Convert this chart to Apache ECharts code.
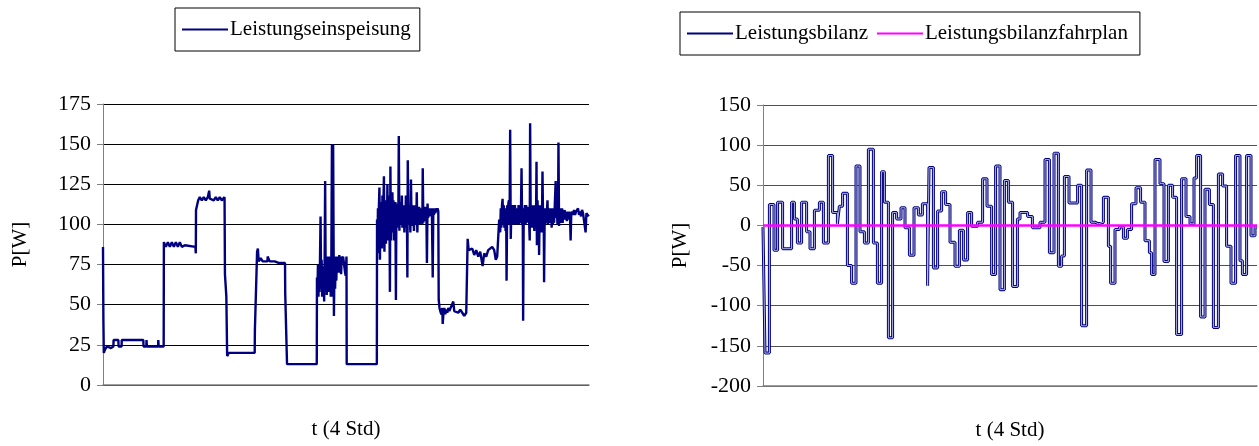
<!DOCTYPE html>
<html>
<head>
<meta charset="utf-8">
<script src="https://cdn.jsdelivr.net/npm/echarts@6/dist/echarts.min.js"></script>
<style>
  html, body { margin: 0; padding: 0; background: #ffffff; }
  #chart { width: 1259px; height: 446px; }
</style>
</head>
<body>
<div id="chart"></div>
<script>
// Leistungseinspeisung: [Zeit in min, Leistung in W]
const leistungseinspeisung = [
  [0,86],[0.2,40],[0.4,20],[1,22],[2,24],[4,23],[5.2,24],[5.3,28],[7.7,28],[7.8,24],[9.3,24],[9.4,28],
  [12,28],[12.5,27],[13,28],[20.2,28],[20.3,24],[21.7,24],[21.8,28],[22,24],[27.6,24],[27.7,28],[27.9,24],[30.4,24],
  [30.5,89],[31.5,86],[32.5,89],[33.5,86],[34.5,89],[35.5,86],[36.5,89],[37.5,86],[38.5,89],[39.5,86],[41,87],
  [46.3,86],[46.5,82],[46.6,109],[47.5,110],[47.7,115],[48.5,117],[49.5,115],[50.5,117],[51.5,115],[52.5,117],
  [53.2,121],[53.5,116],[54.5,117],[55.5,115],[56.5,117],[57.5,115],[58.5,117],[59.5,115],[60.9,117],
  [61.1,69],[61.8,55],[62.2,18],[63,20],[76,20],[76.1,34],[77,34],[77.2,83],[77.6,85],[78,77],[79,79],[80,77],
  [82.4,77],[82.5,80],[83.5,77],[86,77],[88,76],[91.2,76],[91.3,57],[92.1,57],[92.2,13],[107.1,13],
  // erste Schwankungsphase
  [107.2,67],[107.45,58],[107.7,75],[107.95,55],[108.2,72],[108.45,58],[108.7,76],[109,105],[109.3,60],[109.55,78],
  [109.8,55],[110.05,74],[110.3,56],[110.55,72],[110.8,52],[111.05,78],[111.3,127],[111.6,60],[111.85,80],[112.1,56],
  [112.35,78],[112.6,58],[112.85,80],[113.1,62],[113.35,79],[113.6,58],[113.85,80],[114.1,55],[114.4,75],[114.7,150],
  [115,55],[115.3,150],[115.7,43],[116,80],[116.3,60],[116.6,80],[116.9,65],[117.2,80],[117.5,72],[117.8,80],
  [118.1,70],[118.4,81],[118.7,72],[119,80],[119.3,69],[119.6,80],[119.9,78],[120.3,80],[120.7,79],[121,80],
  [121.3,70],[121.6,68],[122,80],[122.1,13],[137.2,13],
  // zweite Schwankungsphase
  [137.3,103],[137.5,82],[137.75,110],[138,86],[138.25,112],[138.5,123],[138.75,78],[139,108],[139.25,88],[139.5,114],
  [139.75,85],[140,118],[140.25,90],[140.5,112],[140.75,130],[141,83],[141.25,110],[141.5,115],[141.75,88],[142,112],
  [142.25,95],[142.5,125],[142.75,90],[143,118],[143.25,92],[143.5,112],[143.75,58],[144,136],[144.25,90],[144.5,118],
  [144.75,95],[145,120],[145.25,98],[145.5,115],[145.75,90],[146,112],[146.25,95],[146.5,114],[146.75,53],[147,110],
  [147.25,98],[147.5,113],[147.75,100],[148,110],[148.2,155],[148.5,96],[148.75,112],[149,100],[149.25,114],[149.5,100],
  [149.75,118],[150,98],[150.25,112],[150.5,100],[150.75,110],[151,95],[151.25,112],[151.5,100],[151.75,118],[152,98],
  [152.25,110],[152.5,67],[152.7,140],[153,100],[153.25,112],[153.5,100],[153.75,110],[154,95],[154.3,128],[154.6,100],
  [154.9,112],[155.2,99],[155.5,110],[155.8,96],[156.1,112],[156.4,100],[156.7,110],[157,102],[157.2,120],[157.5,95],
  [157.8,110],[158.1,101],[158.4,111],[158.7,100],[159,110],[159.3,102],[159.6,109],[160,100],[160.2,135],[160.5,101],
  [160.8,110],[161.1,103],[161.4,111],[161.7,102],[162,110],[162.3,76],[162.6,113],[162.9,104],[163.2,110],[163.5,105],
  [163.8,110],[164.1,106],[164.4,110],[164.8,105],[165.2,67],[165.5,110],[165.8,106],[166.1,110],[166.5,107],[166.9,110],
  [167.3,108],[167.7,110],[168,108],
  [168.2,53],[168.6,48],[169,46],[169.5,44],[170,48],[170.2,38],[170.6,45],[171,48],[171.5,44],[172,47],
  [172.5,45],[173,48],[173.5,46],[174,47],[174.5,45],[175.5,52],[176,46],[177,47],[178,45],[179,47],[180,45],
  [181,43],[182,45],[182.6,46],
  [182.7,91],[183.2,84],[184,83],[185,85],[186,81],[187,84],[188,80],[189,83],[190.2,74],[191,82],[192,80],
  [193,84],[194,83],[195,86],[196,84],[196.8,78],[197.5,80],[198.5,103],
  // dritte Schwankungsphase
  [199,95],[199.3,110],[199.6,98],[199.9,112],[200.2,116],[200.5,100],[200.8,112],[201.1,98],[201.4,110],[201.7,96],
  [202,110],[202.2,65],[202.5,112],[202.8,100],[203.1,113],[203.4,115],[203.7,100],[204,159],[204.3,91],[204.6,110],
  [204.9,100],[205.2,112],[205.5,101],[205.8,110],[206.1,100],[206.4,112],[206.7,101],[207,110],[207.3,100],[207.6,109],
  [207.9,102],[208.2,112],[208.5,100],[208.8,110],[209.1,101],[209.4,108],[209.7,135],[210,100],[210.3,110],[210.5,40],
  [210.8,110],[211.1,102],[211.4,112],[211.7,100],[212,112],[212.3,101],[212.6,110],[212.9,103],[213.2,111],[213.5,102],
  [213.8,90],[214,163],[214.3,100],[214.6,110],[214.9,98],[215.2,112],[215.5,99],[215.8,110],[216.1,96],[216.4,112],
  [216.7,100],[217,108],[217.2,139],[217.4,87],[217.7,115],[218,100],[218.3,110],[218.5,81],[218.8,112],[219.1,98],
  [219.4,110],[219.7,95],[220,110],[220.2,133],[220.5,100],[220.8,110],[221,64],[221.3,108],[221.6,100],[221.9,110],
  [222.2,101],[222.5,110],[222.7,115],[223,100],[223.3,109],[223.6,102],[223.9,110],[224.2,101],[224.5,109],[224.8,98],
  [225.1,110],[225.4,100],[225.7,108],[226,101],[226.3,110],[226.8,127],[227.1,104],[227.4,110],[227.7,100],[228,108],
  [228.2,151],[228.5,99],[228.8,108],[229.1,101],[229.4,110],[229.7,102],[230,110],[230.3,101],[230.6,109],[231,104],
  [231.3,109],[231.6,103],[232,108],[232.4,102],[232.8,108],[233.2,103],[233.6,108],[234,104],[234.3,90],[234.6,106],
  [235,108],[235.5,106],[236,109],[236.5,106],[237,108],[237.5,107],[238,110],[238.5,106],[239,108],[239.5,105],
  [240,109],[240.5,107],[241,108],[241.4,106],[241.8,95],[242.2,107],[242.8,106],[243.4,105]
];

// Leistungsbilanz: [Beginn des Intervalls in min, Leistung in W]
const leistungsbilanz = [
  [0,-2],[1.0,-159],[3.2,26],[5.5,-31],[7.3,29],[9.8,-29],[14.3,29],[15.7,8],[17.2,-22],[19.3,29],
  [21.8,-8],[23.5,-29],[25.7,19],[28.2,29],[30.2,-22],[32.7,87],[34.8,16],[37.2,2],[38.2,24],[39.8,40],
  [42.2,-50],[44.3,-72],[46.5,74],[48.5,-8],[50.7,-22],[52.7,95],[55.2,-22],[57.2,-72],[59.3,67],[60.7,29],
  [62.7,-140],[64.8,16],[66.8,8],[69.0,22],[71.0,-3],[73.2,-37],[75.5,22],[77.7,13],[79.7,27],[82.3,-75],
  [83.0,72],[85.2,-53],[87.3,18],[89.3,42],[91.3,26],[93.5,-21],[96.0,-51],[98.2,-6],[100.2,-43],[102.3,16],
  [104.3,-1],[107.3,4],[109.8,58],[112.0,24],[114.3,-61],[116.3,74],[118.5,-80],[120.7,56],[122.7,29],[124.8,-76],
  [127.2,8],[128.5,16],[132.3,11],[134.7,-3],[138.5,4],[141.0,82],[143.2,-34],[145.5,90],[147.7,-51],[149.3,-38],
  [150.7,61],[153.0,28],[157.3,50],[159.3,-125],[161.8,69],[164.0,4],[166.0,2],[167.7,4],[170.2,35],[172.7,-26],
  [173.8,-72],[176.0,-5],[178.2,-2],[180.2,-16],[182.2,-5],[184.3,27],[186.5,47],[188.8,29],[191.0,-19],[193.2,-34],
  [194.3,-61],[196.0,82],[198.5,52],[200.5,-45],[202.7,50],[204.8,35],[206.8,-136],[209.3,58],[211.5,11],[213.5,2],
  [215.5,59],[216.8,87],[218.8,-114],[221.0,45],[223.2,26],[225.2,-127],[227.7,64],[229.8,49],[231.8,-26],[234.0,-72],
  [236.3,87],[238.5,-44],[239.7,-61],[241.8,87],[244.0,-13],[246.0,-2],[247.0,-2]
];

// Leistungsbilanzfahrplan: Sollwert über den gesamten Zeitraum
const leistungsbilanzfahrplan = [[0,0],[247,0]];

const leftTicks = { min: 0, max: 175, interval: 25 };
const rightTicks = { min: -200, max: 150, interval: 50 };

const FONT = '"Liberation Serif", "Times New Roman", serif';
const NAVY = '#000080';

const chart = echarts.init(document.getElementById('chart'), null, { renderer: 'canvas' });

const legendBase = {
  orient: 'horizontal',
  icon: 'rect',
  itemWidth: 46,
  itemHeight: 2,
  itemGap: 9,
  borderColor: '#000',
  borderWidth: 1,
  backgroundColor: '#fff',
  textStyle: { fontFamily: FONT, fontSize: 21, color: '#000', padding: [0, 0, 0, -3] },
  selectedMode: false
};

function yAxisFor(gridIndex, ticks, gridColor) {
  return {
    gridIndex,
    type: 'value',
    min: ticks.min, max: ticks.max, interval: ticks.interval,
    name: 'P[W]',
    nameLocation: 'middle',
    nameGap: 72,
    nameTextStyle: { fontFamily: FONT, fontSize: 21, color: '#000' },
    axisLine: { show: true, lineStyle: { color: '#808080', width: 1 } },
    axisTick: { show: true, length: 6, lineStyle: { color: '#808080' } },
    axisLabel: { fontFamily: FONT, fontSize: 22, color: '#000', margin: 12 },
    splitLine: { show: true, lineStyle: { color: gridColor, width: 1 } }
  };
}

function xAxisFor(gridIndex, max) {
  return {
    gridIndex,
    type: 'value',
    min: 0, max,
    name: 't (4 Std)',
    nameLocation: 'middle',
    nameGap: 34,
    nameTextStyle: { fontFamily: FONT, fontSize: 21, color: '#000' },
    axisLine: { show: true, onZero: false, lineStyle: { color: '#808080', width: 1.5 } },
    axisTick: { show: false },
    axisLabel: { show: false },
    splitLine: { show: false }
  };
}

chart.setOption({
  animation: false,
  backgroundColor: '#fff',
  grid: [
    { left: 103, top: 104, width: 486, height: 281 },
    { left: 763, top: 105, width: 494, height: 286 }
  ],
  legend: [
    Object.assign({}, legendBase, {
      left: 175, top: 8, padding: [11, 9, 11, 7],
      data: [{ name: 'Leistungseinspeisung' }]
    }),
    Object.assign({}, legendBase, {
      left: 680, top: 12, padding: [11, 12, 11, 7],
      data: [{ name: 'Leistungsbilanz' }, { name: 'Leistungsbilanzfahrplan' }]
    })
  ],
  xAxis: [xAxisFor(0, 243.5), xAxisFor(1, 247)],
  yAxis: [yAxisFor(0, leftTicks, '#000'), yAxisFor(1, rightTicks, '#505050')],
  series: [
    {
      name: 'Leistungseinspeisung',
      type: 'line',
      xAxisIndex: 0, yAxisIndex: 0,
      data: leistungseinspeisung,
      showSymbol: false, symbol: 'none',
      color: NAVY,
      lineStyle: { color: NAVY, width: 2.4 },
      z: 3
    },
    {
      name: 'Leistungsbilanz',
      type: 'line',
      xAxisIndex: 1, yAxisIndex: 1,
      data: leistungsbilanz,
      step: 'end',
      showSymbol: false, symbol: 'none',
      color: NAVY,
      lineStyle: { color: NAVY, width: 3 },
      z: 3
    },
    {
      // heller Kern der Bilanzlinie (Doppellinien-Optik)
      name: 'Leistungsbilanz Kern',
      type: 'line',
      xAxisIndex: 1, yAxisIndex: 1,
      data: leistungsbilanz,
      step: 'end',
      showSymbol: false, symbol: 'none',
      lineStyle: { color: '#c4c8ec', width: 0.9 },
      silent: true,
      z: 4
    },
    {
      name: 'Leistungsbilanzfahrplan',
      type: 'line',
      xAxisIndex: 1, yAxisIndex: 1,
      data: leistungsbilanzfahrplan,
      showSymbol: false, symbol: 'none',
      color: '#ff00ff',
      lineStyle: { color: '#ff00ff', width: 2.5 },
      z: 5
    }
  ]
});
</script>
</body>
</html>
